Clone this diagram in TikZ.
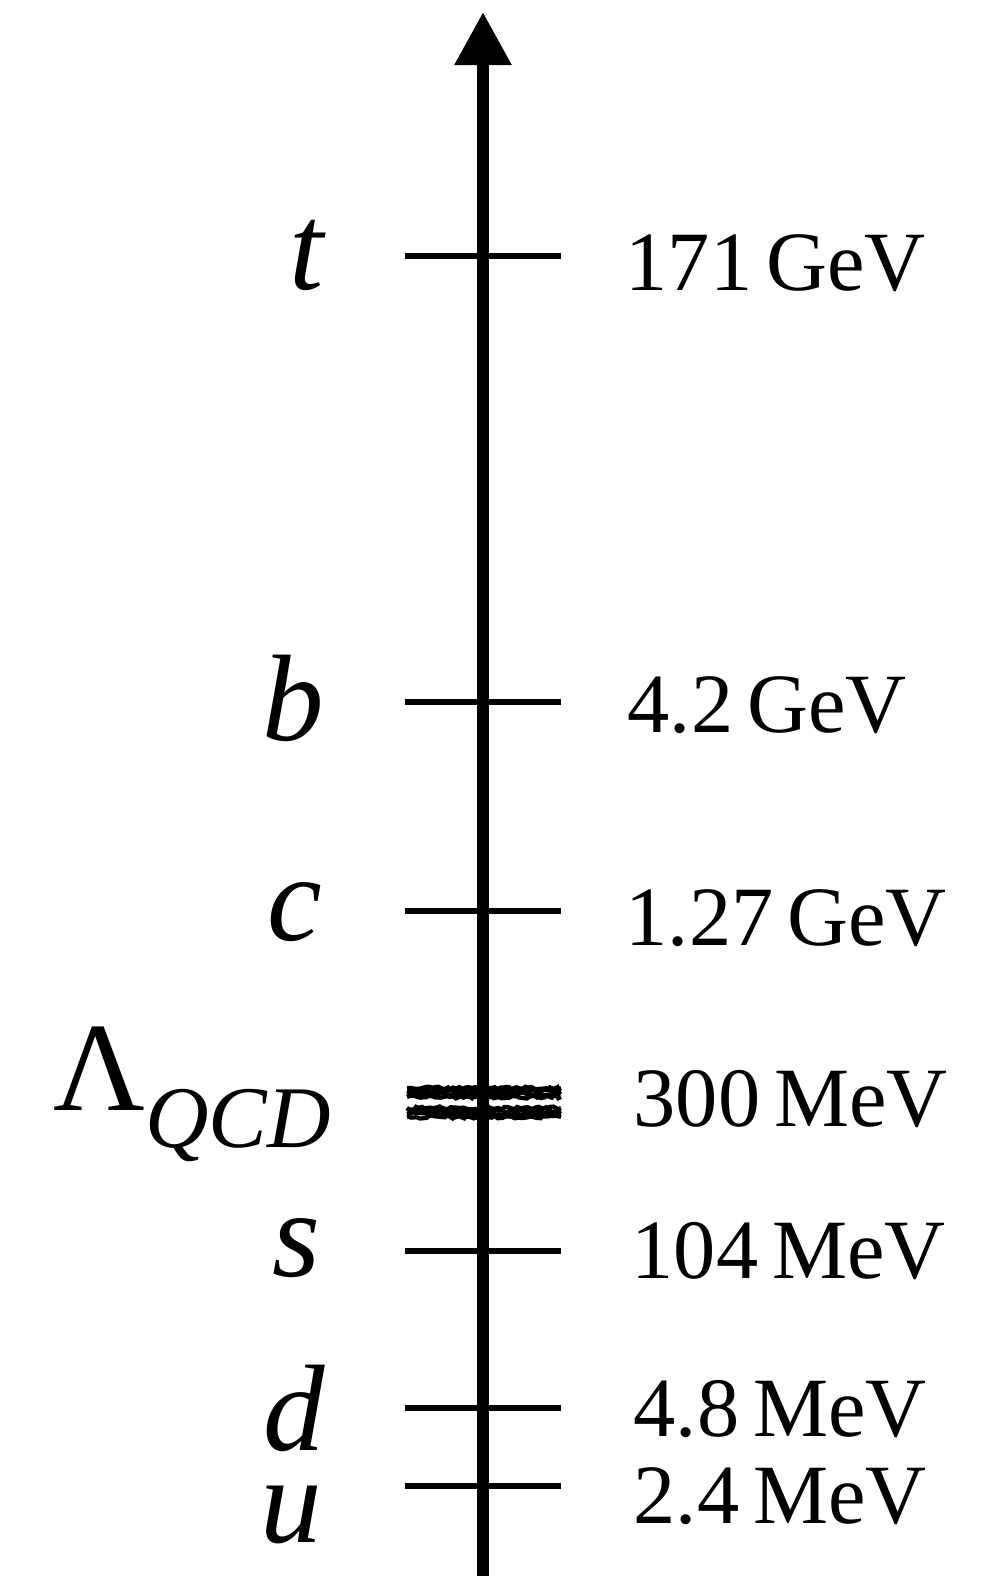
\documentclass[tikz,border=0pt]{standalone}
\usepackage{fontspec}
\setmainfont{Liberation Serif}
\usetikzlibrary{arrows.meta,decorations.pathmorphing}
\tikzset{
  axisarr/.style={-{Triangle[length=5.3mm,width=5.4mm]}, line width=3.4pt},
  tickln/.style={line width=1.7pt},
  fuzz/.style={line width=1.2pt, decorate,
               decoration={random steps, segment length=0.8pt, amplitude=0.45pt}},
  qlab/.style={anchor=base east, inner sep=0pt, font=\fontsize{35}{40}\selectfont\itshape},
  mlab/.style={anchor=base west, inner sep=0pt, font=\fontsize{24}{28}\selectfont},
}
\begin{document}
\begin{tikzpicture}[x=0.01cm, y=-0.01cm]
  \useasboundingbox (0,0) rectangle (1000,1576);
  \pgfmathsetseed{11}
  % energy axis
  \coordinate (bot) at (483,1576);
  \coordinate (top) at (483,12);
  \draw[axisarr] (bot) -- (top);
  % quark masses
  \foreach \n/\y in {t/256, b/702, c/911, s/1251, d/1408, u/1486} {
    \coordinate (l\n) at (405,\y);
    \coordinate (r\n) at (561,\y);
    \draw[tickln] (l\n) -- (r\n);
  }
  \node[qlab] (qt) at (324,289) {t};
  \node[qlab] (qb) at (325,740) {b};
  \node[qlab] (qc) at (323,940) {c};
  \node[qlab] (qs) at (321,1276) {s};
  \node[qlab] (qd) at (326,1450) {d};
  \node[qlab] (qu) at (323,1542) {u};
  \node[mlab] (mt) at (625,291) {171\,GeV};
  \node[mlab] (mb) at (627,732) {4.2\,GeV};
  \node[mlab] (mc) at (625,945) {1.27\,GeV};
  \node[mlab] (ms) at (631,1278) {104\,MeV};
  \node[mlab] (md) at (633,1436) {4.8\,MeV};
  \node[mlab] (mu) at (633,1523) {2.4\,MeV};
  % QCD scale
  \foreach \y in {1093,1113}
    \foreach \o in {-5,-2,1,4}
      \draw[fuzz] (407,\y+\o) -- (561,\y+\o);
  \node[anchor=base west, inner sep=0pt] (lam) at (53,1110)
    {\fontsize{36}{40}\selectfont Λ\raisebox{-0.37cm}{\fontsize{25}{30}\selectfont\itshape QCD}};
  \node[mlab] (mlam) at (633,1126) {300\,MeV};
\end{tikzpicture}
\end{document}
